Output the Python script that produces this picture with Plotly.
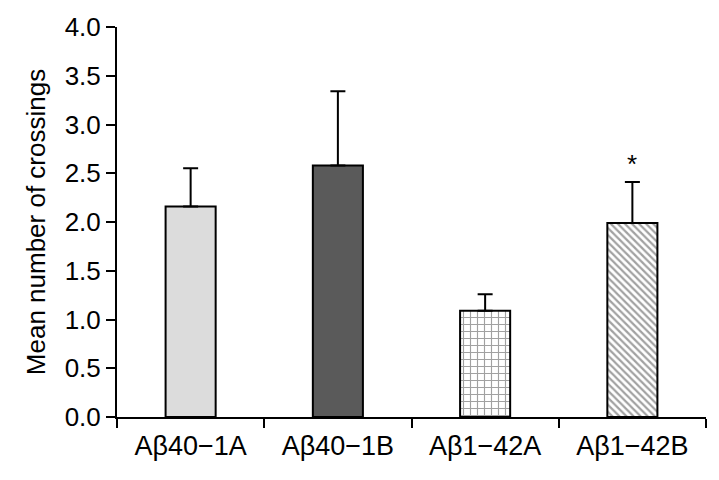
import plotly.graph_objects as go

categories = ["Aβ40\u22121A", "Aβ40\u22121B", "Aβ1\u221242A", "Aβ1\u221242B"]
means = [2.16, 2.58, 1.09, 1.99]
errors = [0.39, 0.76, 0.17, 0.42]
y_ticks = [0.0, 0.5, 1.0, 1.5, 2.0, 2.5, 3.0, 3.5, 4.0]
y_tick_labels = ["0.0", "0.5", "1.0", "1.5", "2.0", "2.5", "3.0", "3.5", "4.0"]
significant = [False, False, False, True]

fills = ["#dcdcdc", "#5a5a5a", "white", "white"]
patterns = ["", "", "+", "\\"]
pat_fg = ["#000", "#000", "#555555", "#222222"]
pat_size = [8, 8, 7, 5]
pat_sol = [0.3, 0.3, 0.3, 0.45]

fig = go.Figure()
fig.add_trace(go.Bar(
    x=categories, y=means, width=0.34,
    marker=dict(color=fills, line=dict(color="black", width=2),
                pattern=dict(shape=patterns, fgcolor=pat_fg, bgcolor="white",
                             size=pat_size, solidity=pat_sol, fillmode="overlay")),
    error_y=dict(type="data", array=errors, arrayminus=[0]*4, symmetric=False,
                 color="black", thickness=2, width=7.5),
    showlegend=False,
))

for c, m, e, s in zip(categories, means, errors, significant):
    if s:
        fig.add_annotation(x=c, y=m + e, text="*", showarrow=False, yshift=18,
                           font=dict(size=26, color="black"))

fig.update_layout(
    width=719, height=480,
    margin=dict(l=117, r=13, t=25, b=63),
    plot_bgcolor="white", paper_bgcolor="white",
    font=dict(family="Liberation Sans, Arial", size=26, color="black"),
)
fig.update_xaxes(
    showline=True, linecolor="black", linewidth=2,
    ticks="outside", tickson="boundaries", ticklen=9, tickwidth=2, tickcolor="black",
    range=[-0.5, 3.5], showgrid=False, tickfont=dict(size=27), ticklabelstandoff=4,
)
fig.update_yaxes(
    range=[0, 4], tickvals=y_ticks, ticktext=y_tick_labels,
    showline=True, linecolor="black", linewidth=2,
    ticks="outside", ticklen=9, tickwidth=2, tickcolor="black",
    showgrid=False, zeroline=False, tickfont=dict(size=26),
    title=dict(text="Mean number of crossings", font=dict(size=26), standoff=12),
)

fig.write_html("out.html", config={"displayModeBar": False},
               post_script="document.body.style.margin='0';")
